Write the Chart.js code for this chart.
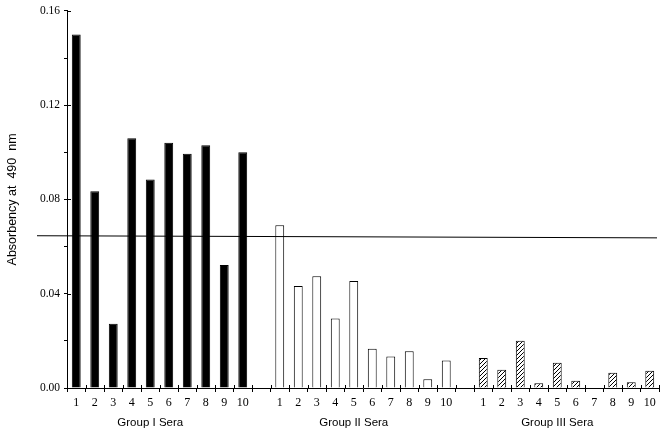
<!DOCTYPE html>
<html>
<head>
<meta charset="utf-8">
<script src="https://cdn.jsdelivr.net/npm/chart.js@4/dist/chart.umd.min.js"></script>
<style>
html,body{margin:0;padding:0;background:#fff;}
canvas{display:block;}
</style>
</head>
<body>
<canvas id="c" width="666" height="431"></canvas>
<script>
// ---- data ----
const sampleLabels = ['1','2','3','4','5','6','7','8','9','10'];
const groupI   = [0.150, 0.0835, 0.0273, 0.106, 0.0885, 0.1041, 0.0994, 0.103, 0.0522, 0.100];
const groupII  = [0.0691, 0.0433, 0.0474, 0.0295, 0.0454, 0.0167, 0.0134, 0.0156, 0.0037, 0.0117];
const groupIII = [0.0127, 0.0077, 0.0201, 0.0020, 0.0107, 0.0031, 0, 0.0065, 0.0024, 0.0073];
const groupNames = ['Group I Sera', 'Group II Sera', 'Group III Sera'];
const cutoff = [0.0646, 0.0637]; // cut-off line value at left and right end
const yTickValues = [0, 0.04, 0.08, 0.12, 0.16];

// ---- build ----
const labels = [...sampleLabels, '', ...sampleLabels, '', ...sampleLabels];
const values = [...groupI, null, ...groupII, null, ...groupIII];
const groupTickLabels = labels.map((l, i) => {
  if (i === 4) return groupNames[0];
  if (i === 15) return groupNames[1];
  if (i === 26) return groupNames[2];
  return '';
});

// hatch pattern
const pc = document.createElement('canvas');
pc.width = 4; pc.height = 4;
const pctx = pc.getContext('2d');
pctx.fillStyle = '#fff'; pctx.fillRect(0,0,4,4);
pctx.strokeStyle = '#000'; pctx.lineWidth = 1;
pctx.beginPath();
pctx.moveTo(-1,5); pctx.lineTo(5,-1);
pctx.stroke();
const ctx0 = document.getElementById('c').getContext('2d');
const hatch = ctx0.createPattern(pc, 'repeat');

const bg = [], bc = [];
values.forEach((v, i) => {
  if (i < 10) { bg.push('#000'); bc.push('#000'); }
  else if (i < 21) { bg.push('#fff'); bc.push('#000'); }
  else { bg.push(hatch); bc.push('#000'); }
});

const extras = {
  id: 'extras',
  afterDraw(chart) {
    const ctx = chart.ctx;
    const x = chart.scales.x, y = chart.scales.y;
    const a = chart.chartArea;
    ctx.save();
    ctx.strokeStyle = '#000';
    ctx.lineWidth = 1;
    // major y ticks crossing the axis
    yTickValues.forEach(v => {
      const py = Math.round(y.getPixelForValue(v)) + 0.5;
      ctx.beginPath(); ctx.moveTo(a.left, py); ctx.lineTo(a.left + 4, py); ctx.stroke();
    });
    // x ticks crossing the axis (upper part)
    const n = labels.length;
    for (let i = 1; i <= n; i++) {
      let px;
      if (i === n) px = a.right;
      else px = (x.getPixelForValue(i - 1) + x.getPixelForValue(i)) / 2;
      px = Math.round(px) + 0.5;
      ctx.beginPath(); ctx.moveTo(px, a.bottom - 3); ctx.lineTo(px, a.bottom); ctx.stroke();
    }
    // cut-off line
    ctx.beginPath();
    ctx.moveTo(a.left - 30, y.getPixelForValue(cutoff[0]));
    ctx.lineTo(a.right - 2, y.getPixelForValue(cutoff[1]));
    ctx.stroke();
    ctx.restore();
  }
};

new Chart(ctx0, {
  type: 'bar',
  data: {
    labels: labels,
    datasets: [{
      data: values,
      backgroundColor: bg,
      borderColor: bc,
      borderWidth: 1,
      barPercentage: 0.48,
      categoryPercentage: 1.0
    }]
  },
  options: {
    responsive: false,
    animation: false,
    devicePixelRatio: 1,
    layout: { padding: { top: 9, right: 7, left: 0, bottom: 0 } },
    plugins: { legend: { display: false }, tooltip: { enabled: false } },
    scales: {
      x: {
        type: 'category',
        position: 'bottom',
        grid: { display: true, drawOnChartArea: false, drawTicks: true, tickLength: 4, color: '#000', offset: true },
        border: { display: true, color: '#000', width: 1 },
        ticks: { color: '#000', autoSkip: false, maxRotation: 0, padding: 4, font: { family: 'Liberation Serif', size: 12 } },
        afterFit(s) { s.height = 20; }
      },
      xg: {
        type: 'category',
        position: 'bottom',
        labels: groupTickLabels,
        grid: { display: false },
        border: { display: false },
        ticks: { color: '#000', autoSkip: false, maxRotation: 0, padding: 0, font: { family: 'Liberation Sans', size: 11.5 } },
        afterFit(s) { s.height = 23; }
      },
      y: {
        min: 0, max: 0.16,
        grid: { display: true, drawOnChartArea: false, drawTicks: true, tickLength: 3, color: '#000' },
        border: { display: true, color: '#000', width: 1 },
        ticks: {
          stepSize: 0.02, color: '#000', padding: 4,
          font: { family: 'Liberation Serif', size: 11.5 },
          callback: (v) => (Math.round(v * 100) % 4 === 0) ? v.toFixed(2) : ''
        },
        title: { display: true, text: 'Absorbency at  490  nm', color: '#000', font: { family: 'Liberation Sans', size: 12.5 }, padding: { top: 5, bottom: 0 } },
        afterFit(s) { s.width = 67; }
      }
    }
  },
  plugins: [extras]
});
</script>
</body>
</html>
